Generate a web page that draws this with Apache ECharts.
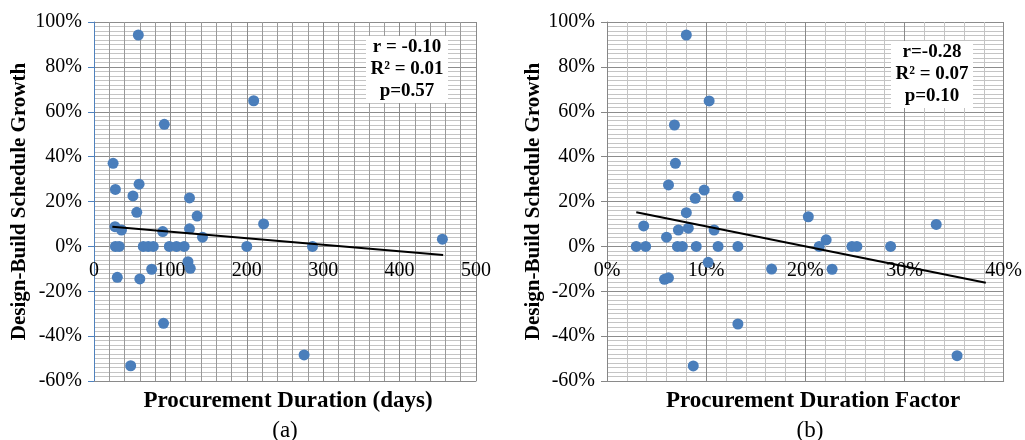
<!DOCTYPE html>
<html>
<head>
<meta charset="utf-8">
<script src="https://cdn.jsdelivr.net/npm/echarts@6/dist/echarts.min.js"></script>
<style>
  html, body { margin: 0; padding: 0; background: #fff; }
  #chart { width: 1025px; height: 440px; }
</style>
</head>
<body>
<div id="chart"></div>
<script>
// (a) procurement duration in days vs schedule growth (%)
const aDays = [58, 209, 92, 25, 28, 59, 51, 125, 56, 135, 27.5, 36, 90, 125, 142, 222,
  28, 33, 64.5, 71, 77.6, 98.6, 108, 118, 200, 286, 456, 123, 126, 75.5, 30.5, 60, 91, 48, 275]
const aGrowth = [94.2, 64.9, 54.4, 37, 25.4, 27.7, 22.5, 21.6, 15.2, 13.5, 8.8, 7.3, 6.6, 7.8, 4.1, 10,
  0, 0, 0, 0, 0, 0, 0, 0, 0, 0, 3.2, -6.8, -9.8, -10.2, -13.8, -14.5, -34.3, -53.2, -48.4]
const aTrend = [[24, 8.8], [457, -3.8]]
const aStats = ['r = -0.10', 'R² = 0.01', 'p=0.57']

// (b) procurement duration factor (%) vs schedule growth (%)
const bFactor = [8, 10.3, 6.8, 6.9, 6.2, 9.8, 8.9, 13.2, 8.0, 3.7, 7.2, 8.2, 10.8, 6.0,
  2.95, 3.9, 7.1, 7.6, 9.0, 11.2, 13.2, 10.2, 16.6, 5.8, 6.2, 13.2, 8.7,
  20.3, 22.1, 21.4, 24.7, 25.2, 28.6, 22.7, 33.2, 35.3]
const bGrowth = [94.2, 64.8, 54.1, 37, 27.4, 25.1, 21.4, 22.2, 15, 9.1, 7.3, 8.1, 7.3, 4.1,
  0, 0, 0, 0, 0, 0, 0, -7.1, -10.1, -14.7, -14, -34.6, -53.3,
  13.2, 2.9, 0, 0, 0, 0, -10.2, 9.8, -48.7]
const bTrend = [[2.95, 15.2], [38.2, -16.2]]
const bStats = ['r=-0.28', 'R² = 0.07', 'p=0.10']

const yTicks = { min: -60, max: 100, interval: 20 }

const font = "'Liberation Serif', 'Times New Roman', serif"
const pointColor = '#4a7ebb'

const chart = echarts.init(document.getElementById('chart'))

const yAxisBase = (gridIndex, lineColor, nameGap) => ({
  type: 'value',
  gridIndex,
  min: yTicks.min,
  max: yTicks.max,
  interval: yTicks.interval,
  name: 'Design-Build Schedule Growth',
  nameLocation: 'middle',
  nameGap,
  nameRotate: 90,
  nameTextStyle: { fontFamily: font, fontWeight: 'bold', fontSize: 21, color: '#000' },
  axisLine: { show: true, lineStyle: { color: lineColor, width: 1 } },
  axisTick: { show: true, length: 6, lineStyle: { color: lineColor } },
  axisLabel: {
    fontFamily: font, fontSize: 20, color: '#000', margin: 12,
    formatter: v => v + '%'
  },
  splitLine: { show: true, lineStyle: { color: '#8c8c8c', width: 1 } },
  minorTick: { show: false, splitNumber: 10 },
  minorSplitLine: { show: true, lineStyle: { color: '#c4c4c4', width: 1 } }
})

// x labels sit just under the 0% line, so pull them up from the grid bottom
const xLabelMargin = -120

const statBox = (x, y, lines) => ({
  type: 'group',
  left: x,
  top: y,
  z: 50,
  children: [
    { type: 'rect', z: 100, shape: { x: 0, y: 0, width: 82, height: 67 }, style: { fill: '#fff', stroke: null } },
    {
      type: 'text',
      z: 101,
      x: 41,
      y: 33.5,
      style: {
        text: lines.join('\n'),
        fontFamily: font, fontWeight: 'bold', fontSize: 19, lineHeight: 22,
        fill: '#000', stroke: null, lineWidth: 0, align: 'center', verticalAlign: 'middle'
      }
    }
  ]
})

const option = {
  animation: false,
  backgroundColor: '#fff',
  grid: [
    { left: 94, top: 22, width: 382, height: 359 },
    { left: 607, top: 22, width: 398, height: 359 }
  ],
  xAxis: [
    {
      type: 'value', gridIndex: 0, min: 0, max: 500, interval: 100,
      axisLine: { onZero: false, lineStyle: { color: '#8a8a8a' } },
      axisTick: { show: false },
      axisLabel: { fontFamily: font, fontSize: 20, color: '#000', margin: xLabelMargin },
      splitLine: { show: true, lineStyle: { color: '#8a8a8a' } },
      minorTick: { show: false, splitNumber: 5 },
      minorSplitLine: { show: true, lineStyle: { color: '#9a9a9a' } }
    },
    {
      type: 'value', gridIndex: 1, min: 0, max: 40, interval: 10,
      axisLine: { onZero: false, lineStyle: { color: '#8a8a8a' } },
      axisTick: { show: false },
      axisLabel: { fontFamily: font, fontSize: 20, color: '#000', margin: xLabelMargin, formatter: v => v + '%' },
      splitLine: { show: true, lineStyle: { color: '#8a8a8a' } },
      minorTick: { show: false, splitNumber: 5 },
      minorSplitLine: { show: true, lineStyle: { color: '#c4c4c4' } }
    }
  ],
  yAxis: [
    yAxisBase(0, '#4f81bd', 64),
    yAxisBase(1, '#868686', 53)
  ],
  title: [
    { text: 'Procurement Duration (days)', left: 283, top: 385, textAlign: 'center',
      textStyle: { fontFamily: font, fontWeight: 'bold', fontSize: 23, color: '#000' } },
    { text: '(a)', left: 280, top: 414, textAlign: 'center',
      textStyle: { fontFamily: font, fontWeight: 'normal', fontSize: 23, color: '#000' } },
    { text: 'Procurement Duration Factor', left: 808, top: 385, textAlign: 'center',
      textStyle: { fontFamily: font, fontWeight: 'bold', fontSize: 23, color: '#000' } },
    { text: '(b)', left: 805, top: 414, textAlign: 'center',
      textStyle: { fontFamily: font, fontWeight: 'normal', fontSize: 23, color: '#000' } }
  ],
  graphic: [
    statBox(366, 36, aStats),
    statBox(891, 41, bStats)
  ],
  series: [
    {
      type: 'scatter', xAxisIndex: 0, yAxisIndex: 0, symbolSize: 11,
      itemStyle: { color: pointColor, opacity: 1 },
      data: aDays.map((d, i) => [d, aGrowth[i]]), z: 5
    },
    {
      type: 'line', xAxisIndex: 0, yAxisIndex: 0, symbol: 'none',
      lineStyle: { color: '#000', width: 2 }, data: aTrend, z: 6
    },
    {
      type: 'scatter', xAxisIndex: 1, yAxisIndex: 1, symbolSize: 11,
      itemStyle: { color: pointColor, opacity: 1 },
      data: bFactor.map((f, i) => [f, bGrowth[i]]), z: 5
    },
    {
      type: 'line', xAxisIndex: 1, yAxisIndex: 1, symbol: 'none',
      lineStyle: { color: '#000', width: 2 }, data: bTrend, z: 6
    }
  ]
}

chart.setOption(option)
</script>
</body>
</html>
